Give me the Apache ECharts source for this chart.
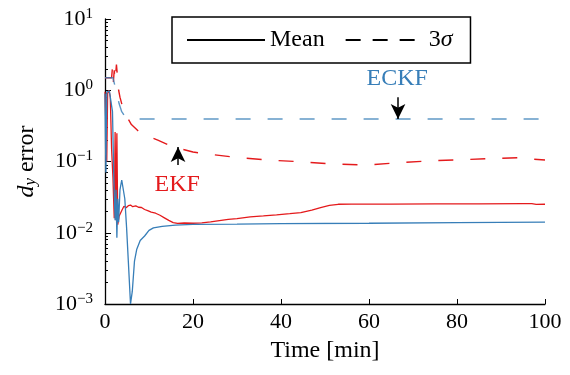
<!DOCTYPE html>
<html><head><meta charset="utf-8">
<script src="https://cdn.jsdelivr.net/npm/echarts@6/dist/echarts.min.js"></script>
<style>html,body{margin:0;padding:0;background:#fff}#c{width:570px;height:375px}</style>
</head><body><div id="c"></div>
<script>
// time [min], value pairs
const ekfMean = [[0,0.95],[0.2,0.9],[0.4,0.1],[0.6,0.9],[0.9,1.0],[1.2,0.8],[1.5,0.15],[1.8,0.06],[2.1,0.016],[2.3,0.26],[2.5,0.015],[2.7,0.25],[2.9,0.013],[3.2,0.017],[3.5,0.016],[3.9,0.021],[4.3,0.0235],[4.8,0.0225],[5.3,0.024],[5.8,0.0245],[6.3,0.0232],[7,0.0238],[7.6,0.0228],[8.3,0.0226],[9,0.0212],[9.7,0.0205],[10.5,0.0195],[11.5,0.0188],[12.5,0.0176],[13.5,0.0162],[14.5,0.0149],[15.5,0.0139],[16.5,0.0135],[18,0.0137],[20,0.0136],[22,0.0138],[24,0.0142],[26,0.0148],[28,0.0154],[30,0.0158],[33,0.0167],[36,0.0172],[39,0.0178],[42,0.0185],[44.5,0.0192],[47,0.0208],[49,0.0226],[51,0.0243],[53,0.0251],[56,0.0252],[65,0.0253],[75,0.0254],[85,0.0255],[95,0.0256],[97,0.0256],[98,0.025],[100,0.0251]];
const ekfSigma = [[0,1.5],[1.5,1.5],[1.7,2.1],[1.9,1.3],[2.1,1.9],[2.3,1.35],[2.6,2.3],[2.9,1.4],[3.1,1.0],[3.4,0.8],[4,0.58],[5,0.42],[6,0.33],[7.5,0.27],[9,0.236],[12,0.2],[15.5,0.16],[20,0.136],[23,0.128],[30,0.114],[37,0.105],[44,0.0994],[52,0.0923],[59.5,0.0893],[67,0.0962],[74.5,0.1026],[87,0.1095],[94,0.113],[97,0.108],[100,0.105]];
const eckfMean = [[0,0.9],[0.2,0.07],[0.4,0.95],[0.7,1.0],[1.0,0.97],[1.4,0.95],[1.7,0.5],[2.0,0.06],[2.3,0.015],[2.5,0.04],[2.7,0.0085],[2.9,0.03],[3.1,0.014],[3.4,0.04],[3.8,0.055],[4.1,0.052],[4.5,0.03],[4.9,0.012],[5.3,0.004],[5.8,0.001],[6.2,0.0015],[6.7,0.004],[7.2,0.0058],[8,0.0078],[9,0.009],[10,0.0108],[11,0.0117],[13,0.0123],[16,0.0128],[20,0.0131],[30,0.0132],[40,0.0134],[60,0.0136],[80,0.0139],[100,0.0141]];
const eckfSigma = [[0,1.5],[1.8,1.5],[2.2,1.2],[2.7,0.9],[3.2,0.65],[3.8,0.5],[4.5,0.43],[5.5,0.4],[7,0.395],[100,0.395]];
const legendNames = ['Mean','3σ'];
const xTicks = [0,20,40,60,80,100];
const annotations = {EKF:{text:'EKF', at:[16.4,0.048], arrow:[[16.6,0.089],[16.6,0.16]]}, ECKF:{text:'ECKF', at:[66.4,1.44], arrow:[[66.6,0.8],[66.6,0.395]]}};

const RED='#e41a1c', BLUE='#377eb8';
const FONT='Liberation Serif';
const DASH=[15,17];
const chart = echarts.init(document.getElementById('c'), null, {renderer:'canvas'});
function arrowLine(a){
  return {silent:true, animation:false, symbol:['none','arrow'], symbolSize:[11,15],
    label:{show:false}, lineStyle:{color:'#000', width:1.5, type:'solid'},
    emphasis:{disabled:true}, data:[[{coord:a.arrow[0]},{coord:a.arrow[1]}]]};
}
function textPoint(a,color){
  return {silent:true, animation:false, symbol:'circle', symbolSize:0,
    label:{show:true, position:'inside', formatter:a.text, color:color, fontFamily:FONT, fontSize:24},
    data:[{coord:a.at}]};
}
chart.setOption({
  animation:false,
  textStyle:{fontFamily:FONT},
  grid:{left:105, right:25, top:19, bottom:71, containLabel:false},
  legend:{
    data:legendNames, left:172, top:17, orient:'horizontal',
    borderColor:'#000', borderWidth:1.5, borderRadius:0, padding:[11,18,11,14],
    itemWidth:78, itemHeight:14, itemGap:20,
    itemStyle:{opacity:0},
    textStyle:{fontFamily:FONT, fontSize:24, color:'#000',
      rich:{n:{fontFamily:FONT, fontSize:24, color:'#000'}, g:{fontFamily:FONT, fontSize:24, fontStyle:'italic', color:'#000'}}},
    formatter:function(n){ return n==='3σ' ? '{n|3}{g|σ}' : '{n|'+n+'}'; }
  },
  xAxis:{type:'value', min:0, max:100, interval:20,
    name:'Time [min]', nameLocation:'middle', nameGap:35,
    nameTextStyle:{fontFamily:FONT, fontSize:24, color:'#000'},
    axisLine:{onZero:false, lineStyle:{color:'#000', width:1.3}},
    axisTick:{inside:true, length:5, lineStyle:{color:'#000'}},
    axisLabel:{fontFamily:FONT, fontSize:22, color:'#000', margin:7,
      formatter:function(v){ return xTicks.indexOf(v)>=0 ? String(v) : ''; }},
    splitLine:{show:false}},
  yAxis:{type:'log', logBase:10, min:0.001, max:10,
    name:'{i|d}{s|y}{n| error}', nameLocation:'middle', nameGap:66, nameRotate:90,
    nameTextStyle:{color:'#000', rich:{
      i:{fontFamily:FONT, fontSize:24, fontStyle:'italic', color:'#000'},
      s:{fontFamily:FONT, fontSize:17, fontStyle:'italic', color:'#000', verticalAlign:'bottom', padding:[8,0,0,0]},
      n:{fontFamily:FONT, fontSize:24, color:'#000'}}},
    axisLine:{show:true, lineStyle:{color:'#000', width:1.3}},
    axisTick:{show:true, inside:true, length:6, lineStyle:{color:'#000'}},
    minorTick:{show:true, splitNumber:9, length:3, lineStyle:{color:'#000'}},
    splitLine:{show:false}, minorSplitLine:{show:false},
    axisLabel:{margin:12, color:'#000',
      formatter:function(v){ const e=Math.round(Math.log10(v)); return '{b|10}{s|'+(e<0?'\u2212'+(-e):e)+'}'; },
      rich:{b:{fontFamily:FONT, fontSize:22, color:'#000'}, s:{fontFamily:FONT, fontSize:15, color:'#000', verticalAlign:'top', padding:[0,0,10,0]}}}},
  series:[
    {name:'Mean', type:'line', data:[], symbol:'none', color:'#000', itemStyle:{opacity:0}, lineStyle:{color:'#000', width:1.3, type:'solid'}},
    {name:'3σ', type:'line', data:[], symbol:'none', color:'#000', itemStyle:{opacity:0}, lineStyle:{color:'#000', width:1.3, type:[15,12]}},
    {name:'EKF 3σ', type:'line', data:ekfSigma, symbol:'none', clip:true, lineStyle:{color:RED, width:1.4, type:DASH},
      markPoint:textPoint(annotations.EKF, RED), markLine:arrowLine(annotations.EKF)},
    {name:'ECKF 3σ', type:'line', data:eckfSigma, symbol:'none', clip:true, lineStyle:{color:BLUE, width:1.4, type:DASH, opacity:0.8},
      markPoint:textPoint(annotations.ECKF, BLUE), markLine:arrowLine(annotations.ECKF)},
    {name:'EKF mean', type:'line', data:ekfMean, symbol:'none', clip:true, lineStyle:{color:RED, width:1.3}},
    {name:'ECKF mean', type:'line', data:eckfMean, symbol:'none', clip:true, lineStyle:{color:BLUE, width:1.3}}
  ]
});
</script></body></html>
